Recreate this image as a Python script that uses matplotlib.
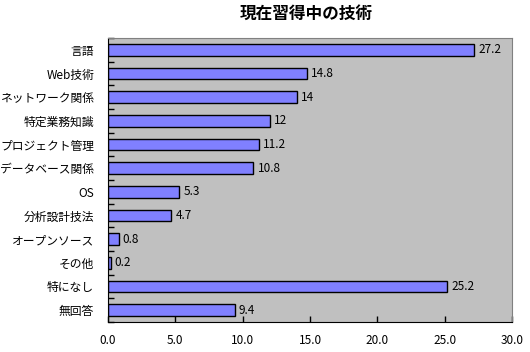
import numpy as np
import matplotlib
matplotlib.use('Agg')
import matplotlib.pyplot as plt

plt.rcParams['font.family'] = ['Noto Sans CJK JP', 'DejaVu Sans']

categories = ['言語', 'Web技術', 'ネットワーク関係', '特定業務知識', 'プロジェクト管理',
              'データベース関係', 'OS', '分析設計技法', 'オープンソース', 'その他',
              '特になし', '無回答']
values = [27.2, 14.8, 14, 12, 11.2, 10.8, 5.3, 4.7, 0.8, 0.2, 25.2, 9.4]
value_labels = ['27.2', '14.8', '14', '12', '11.2', '10.8', '5.3', '4.7', '0.8', '0.2', '25.2', '9.4']
xticks = [0, 5, 10, 15, 20, 25, 30]

fig = plt.figure(figsize=(5.30, 3.52), dpi=100)
ax = fig.add_axes([108 / 530, 1 - 322 / 352, 404 / 530, 284 / 352])
ax.set_facecolor('#c0c0c0')

y = np.arange(len(categories))
ax.barh(y, values, height=0.5, color='#8080ff', edgecolor='black', linewidth=1)
for yi, v, lab in zip(y, values, value_labels):
    ax.text(v + 0.3, yi, lab, va='center', ha='left', fontsize=8.5)

ax.set_xlim(0, 30)
ax.set_ylim(len(categories) - 0.5, -0.5)
ax.set_yticks(y)
ax.set_yticklabels(categories, fontsize=8.5)
ax.tick_params(axis='y', which='major', length=0, pad=10)
ax.set_yticks(np.arange(len(categories) + 1) - 0.5, minor=True)
ax.tick_params(axis='y', which='minor', length=4, direction='in', width=1)

ax.set_xticks(xticks)
ax.set_xticklabels([f'{t:.1f}' for t in xticks], fontsize=8.5)
ax.tick_params(axis='x', direction='in', length=4, width=1, pad=9)

for side in ['top', 'right']:
    ax.spines[side].set_color('#808080')
for side in ['left', 'bottom']:
    ax.spines[side].set_color('black')

fig.text(306 / 530, 1 - 14 / 352, '現在習得中の技術', ha='center', va='center',
         fontsize=12, fontweight='bold')

fig.savefig('out.png', dpi=100)
